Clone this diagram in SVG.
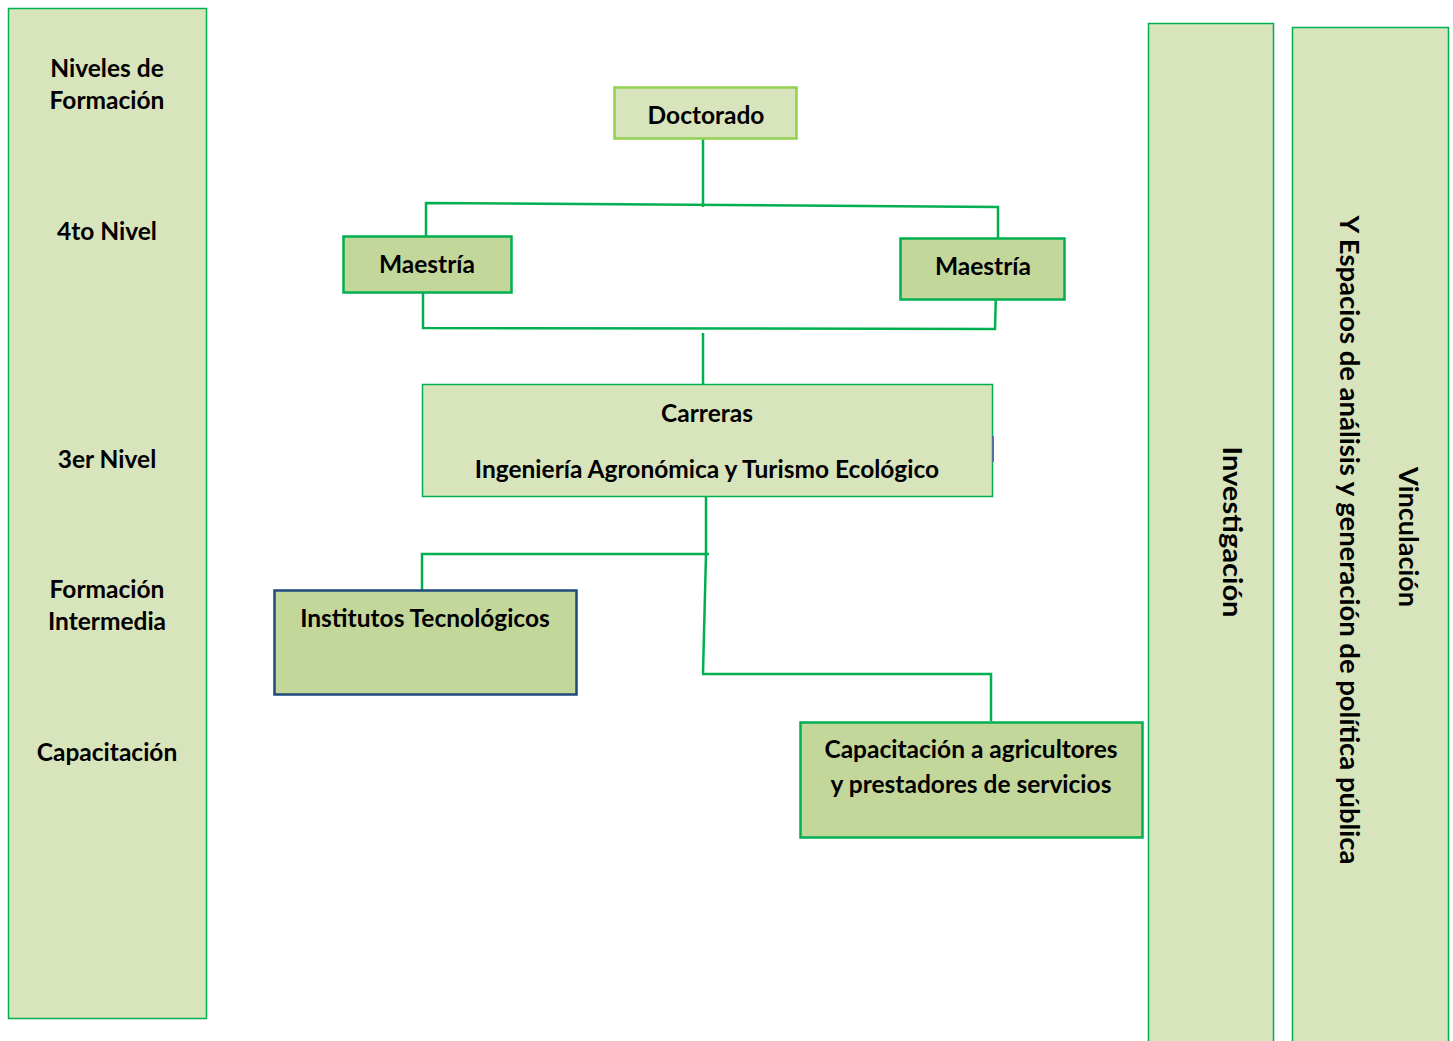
<svg xmlns="http://www.w3.org/2000/svg" width="1453" height="1041" viewBox="0 0 1453 1041">
<style>
.t{font-family:Lato,"Open Sans","Liberation Sans",sans-serif;font-weight:bold;font-size:24.5px;fill:#000;text-anchor:middle}
.v{font-size:27.5px}
.light{fill:#D8E4BC;stroke:#00B050;stroke-width:1.5}
.dark{fill:#C4D79B;stroke:#00B050;stroke-width:2.5}
.c{fill:none;stroke:#00B050;stroke-width:2.5}
</style>
<rect width="1453" height="1041" fill="#fff"/>
<g id="panel-niveles">
<rect class="light" x="8.5" y="8.5" width="198" height="1010"/>
<text class="t" x="107" y="77">Niveles de</text>
<text class="t" x="107" y="109">Formación</text>
<text class="t" x="107" y="240">4to Nivel</text>
<text class="t" x="107" y="468">3er Nivel</text>
<text class="t" x="107" y="598">Formación</text>
<text class="t" x="107" y="630">Intermedia</text>
<text class="t" x="107" y="761">Capacitación</text>
</g>
<g id="panel-investigacion">
<rect class="light" x="1148.5" y="23.5" width="125" height="1030"/>
<text class="t v" transform="translate(1233,532) rotate(90)" dominant-baseline="central" textLength="171" lengthAdjust="spacingAndGlyphs">Investigación</text>
</g>
<g id="panel-vinculacion">
<rect class="light" x="1292.5" y="27.5" width="156" height="1030"/>
<text class="t v" transform="translate(1409,537) rotate(90)" dominant-baseline="central" textLength="140" lengthAdjust="spacingAndGlyphs">Vinculación</text>
<text class="t v" transform="translate(1350,540) rotate(90)" dominant-baseline="central" textLength="649" lengthAdjust="spacingAndGlyphs">Y Espacios de análisis y generación de política pública</text>
</g>
<g id="connectors">
<polyline class="c" points="703,139 703,207"/>
<polyline class="c" points="426,236 426,203 998,207 998,238"/>
<polyline class="c" points="423,291 423,328 995,329 996,291"/>
<polyline class="c" points="703,333 703,384"/>
<polyline class="c" points="706,497 706,554"/>
<polyline class="c" points="422,590 422,554 709,554"/>
<polyline class="c" points="706,554 703,673"/>
<polyline class="c" points="702,674 991,674 991,721"/>
</g>
<g id="doctorado">
<rect x="614.5" y="87.5" width="182" height="51" fill="#D8E4BC" stroke="#92D050" stroke-width="2.5"/>
<text class="t" x="706" y="124">Doctorado</text>
</g>
<g id="maestria-izq">
<rect class="dark" x="343.5" y="236.5" width="168" height="56"/>
<text class="t" x="427" y="273">Maestría</text>
</g>
<g id="maestria-der">
<rect class="dark" x="900.5" y="238.5" width="164" height="61"/>
<text class="t" x="983" y="275">Maestría</text>
</g>
<g id="carreras">
<rect class="light" x="422.5" y="384.5" width="570" height="112" stroke-width="2.5"/>
<line x1="993" y1="436" x2="993" y2="462" stroke="#4F6FA8" stroke-width="2"/>
<text class="t" x="707" y="422">Carreras</text>
<text class="t" x="707" y="478">Ingeniería Agronómica y Turismo Ecológico</text>
</g>
<g id="institutos">
<rect x="274.5" y="590.5" width="302" height="104" fill="#C4D79B" stroke="#1F497D" stroke-width="2.5"/>
<text class="t" x="425" y="627">Institutos Tecnológicos</text>
</g>
<g id="capacitacion">
<rect class="dark" x="800.5" y="722.5" width="342" height="115"/>
<text class="t" x="971" y="758">Capacitación a agricultores</text>
<text class="t" x="971" y="793">y prestadores de servicios</text>
</g>
</svg>
